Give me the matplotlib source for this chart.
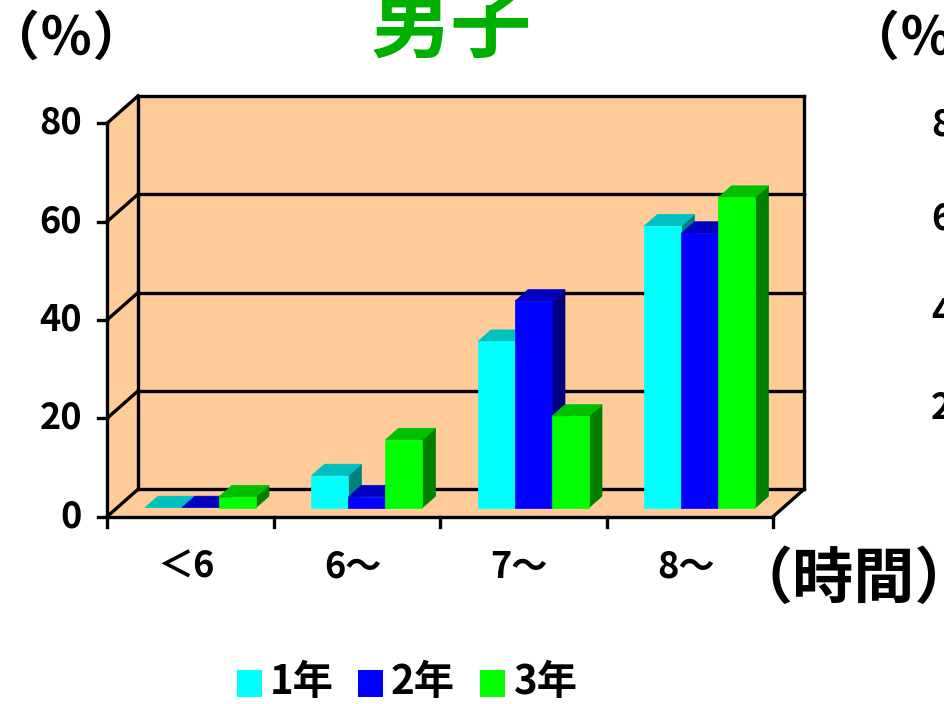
import matplotlib
matplotlib.use("Agg")
import matplotlib.pyplot as plt
from matplotlib.patches import Polygon, Rectangle

plt.rcParams['font.family'] = ['Noto Sans CJK JP', 'DejaVu Sans']

# ---- data -------------------------------------------------------------
categories = ['＜6', '6～', '7～', '8～']
series_names = ['1年', '2年', '3年']
grade1 = [0.0, 6.5, 33.8, 57.3]
grade2 = [0.0, 2.2, 42.0, 55.8]
grade3 = [2.2, 13.8, 18.6, 63.1]
y_ticks = [0, 20, 40, 60, 80]
neighbor_ticks = [80, 60, 40, 20]
title = '男子'
y_unit = '（％）'
x_unit = '（時間）'

series = [grade1, grade2, grade3]

# ---- styling ----------------------------------------------------------
front_col = ['#00FFFF', '#0000FF', '#00FF00']
top_col = ['#00C0C0', '#0000C0', '#00C000']
side_col = ['#008080', '#000080', '#008000']
wall_col = '#FFCC99'
title_col = '#00B000'
LW = 2.4

W, H = 945, 704
fig = plt.figure(figsize=(W / 100, H / 100), dpi=100)
ax = fig.add_axes([0, 0, 1, 1])

# pixel layout of the plot box
x0_px, cat_px = 107.0, 166.5       # left axis position, width of one category
y0_px, unit_px = 516.7, 4.9175     # zero line position, pixels per percent
ax.set_xlim(-x0_px / cat_px, (W - x0_px) / cat_px)
ax.set_ylim((y0_px - H) / unit_px, y0_px / unit_px)
ax.axis('off')

ncat = len(categories)
ymax = y_ticks[-1]
dx, dy = 31 / cat_px, 27.4 / unit_px   # depth offset of the back wall


def fx(px):
    return px / W


def fy(py):
    return 1 - py / H


# ---- walls & floor ----------------------------------------------------
ax.add_patch(Polygon([(0, 0), (0, ymax), (dx, ymax + dy), (dx, dy)],
                     closed=True, fc=wall_col, ec='none', zorder=0))
ax.add_patch(Polygon([(dx, dy), (ncat + dx, dy), (ncat + dx, ymax + dy), (dx, ymax + dy)],
                     closed=True, fc=wall_col, ec='none', zorder=0))
ax.add_patch(Polygon([(0, 0), (ncat, 0), (ncat + dx, dy), (dx, dy)],
                     closed=True, fc=wall_col, ec='none', zorder=0))

line_kw = dict(color='black', lw=LW, solid_capstyle='projecting', zorder=1)
for v in y_ticks:
    ax.plot([dx, ncat + dx], [v + dy, v + dy], **line_kw)
    ax.plot([0, dx], [v, v + dy], **line_kw)
ax.plot([dx, dx], [dy, ymax + dy], **line_kw)
ax.plot([ncat + dx, ncat + dx], [dy, ymax + dy], **line_kw)
ax.plot([ncat, ncat + dx], [0, dy], **line_kw)
ax.plot([0, 0], [0, ymax], **line_kw)
ax.plot([0, ncat], [0, 0], **line_kw)

# ticks
tick_y = 9 / cat_px
for v in y_ticks:
    ax.plot([-tick_y, 0], [v, v], **line_kw)
tick_x = 10 / unit_px
for i in range(ncat + 1):
    ax.plot([i, i], [0, -tick_x], **line_kw)

# ---- 3-D bars ---------------------------------------------------------
bw = 37 / cat_px
f0, f1 = 0.33, 0.75
ddx, ddy = (f1 - f0) * dx, (f1 - f0) * dy
start = (1 - len(series) * bw) / 2
for i in range(ncat):
    for k, vals in enumerate(series):
        h = vals[i]
        xl = i + start + k * bw + f0 * dx
        yb = f0 * dy
        xr = xl + bw
        ax.add_patch(Polygon([(xr, yb), (xr, yb + h), (xr + ddx, yb + h + ddy), (xr + ddx, yb + ddy)],
                             closed=True, fc=side_col[k], ec=side_col[k], lw=0.5, zorder=2))
        ax.add_patch(Polygon([(xl, yb + h), (xr, yb + h), (xr + ddx, yb + h + ddy), (xl + ddx, yb + h + ddy)],
                             closed=True, fc=top_col[k], ec=top_col[k], lw=0.5, zorder=2))
        if h > 0:
            ax.add_patch(Rectangle((xl, yb), bw, h, fc=front_col[k], ec=front_col[k],
                                   lw=0.5, zorder=2))

# ---- labels -----------------------------------------------------------
for v in y_ticks:
    ax.text((82 - x0_px) / cat_px, v, str(v), ha='right', va='center',
            fontsize=26, fontweight='bold', zorder=3)

for i, c in enumerate(categories):
    ax.text(i + 0.5 - 4 / cat_px, (y0_px - 567) / unit_px, c, ha='center', va='center',
            fontsize=26, fontweight='bold', zorder=3)

fig.text(fx(451), fy(27), title, ha='center', va='center', fontsize=58,
         fontweight='bold', color=title_col)
fig.text(fx(66), fy(39), y_unit, ha='center', va='center', fontsize=38, fontweight='bold')
fig.text(fx(926), fy(39), y_unit, ha='center', va='center', fontsize=38, fontweight='bold')
fig.text(fx(854), fy(580), x_unit, ha='center', va='center', fontsize=44, fontweight='bold')

# tick labels of the neighbouring panel, cut by the right edge
for j, v in enumerate(neighbor_ticks):
    fig.text(fx(931), fy(125 + j * 94.3), str(v), ha='left', va='center',
             fontsize=26, fontweight='bold')

# ---- legend -----------------------------------------------------------
leg_x = [237, 358, 480]
for k, name in enumerate(series_names):
    fig.patches.append(Rectangle((fx(leg_x[k]), fy(697)), 25 / W, 27 / H,
                                 transform=fig.transFigure, fc=front_col[k], ec='none'))
    fig.text(fx(leg_x[k] + 33), fy(683), name, ha='left', va='center',
             fontsize=29, fontweight='bold')

fig.savefig('out.png', dpi=100)
